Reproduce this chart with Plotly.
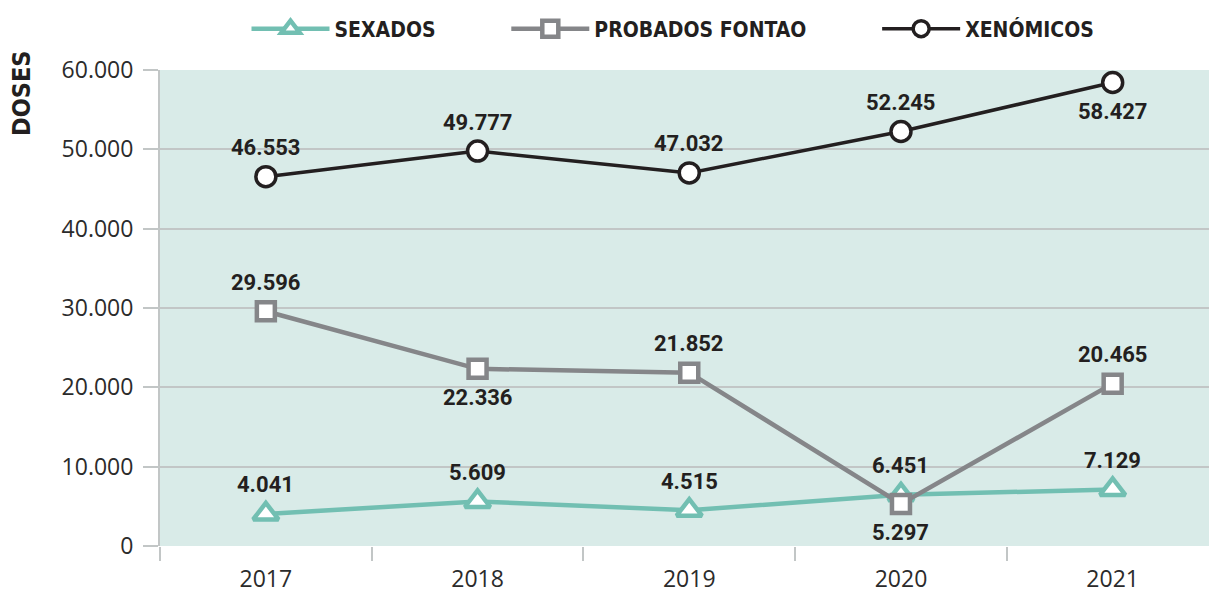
import plotly.graph_objects as go

years = ["2017", "2018", "2019", "2020", "2021"]
sexados = [4041, 5609, 4515, 6451, 7129]
probados = [29596, 22336, 21852, 5297, 20465]
xenomicos = [46553, 49777, 47032, 52245, 58427]

# +1 = label above the point, -1 = label below
sexados_side = [1, 1, 1, 1, 1]
probados_side = [1, -1, 1, -1, 1]
xenomicos_side = [1, 1, 1, 1, -1]

def lbl(v):
    return f"{v:,}".replace(",", ".")

TEAL = "#72bfb2"
GREY = "#858689"
BLACK = "#231f20"
GRID = "#c2c6c6"
TICK_TXT = "#2b2b2b"
LABEL_FONT = dict(family="Roboto, Arial", size=22, color=BLACK, weight="bold")
COND = "Liberation Sans Narrow, DejaVu Sans Condensed, Arial Narrow"
PAD = "\u00a0" * 10

W, H = 1209, 594
L, T, B = 160, 70, 48

fig = go.Figure()
series = [
    ("SEXADOS", sexados, sexados_side, TEAL, 4.5,
     dict(symbol="triangle-up", size=22, color="white", line=dict(color=TEAL, width=4.5))),
    ("PROBADOS FONTAO", probados, probados_side, GREY, 4.5,
     dict(symbol="square", size=18, color="white", line=dict(color=GREY, width=4.5))),
    ("XENÓMICOS", xenomicos, xenomicos_side, BLACK, 3.5,
     dict(symbol="circle", size=20, color="white", line=dict(color=BLACK, width=3.5))),
]
annotations = []
for idx, (name, vals, side, col, w, mk) in enumerate(series):
    fig.add_trace(go.Scatter(
        x=years, y=vals, name=name + (PAD if idx < 2 else ""), mode="lines+markers",
        line=dict(color=col, width=w), marker=mk, cliponaxis=False,
    ))
    for i, (yv, s) in enumerate(zip(vals, side)):
        annotations.append(dict(
            x=i, y=yv, xref="x", yref="y", text=lbl(yv), showarrow=False,
            yshift=29 * s, font=LABEL_FONT, xanchor="center", yanchor="middle",
        ))

annotations.append(dict(
    text="<b>DOSES</b>", textangle=-90, xref="paper", yref="paper",
    x=(22 - L) / (W - L), y=(H - B - 48) / (H - T - B), xanchor="center", yanchor="top",
    showarrow=False, font=dict(family=COND, size=25, color=BLACK),
))

fig.update_layout(
    width=W, height=H,
    margin=dict(l=L, r=0, t=T, b=B, pad=0, autoexpand=False),
    paper_bgcolor="white",
    plot_bgcolor="#d9ebe8",
    separators=",.",
    showlegend=True,
    legend=dict(
        orientation="h", x=673 / W, xanchor="center", xref="container",
        y=1 - 29 / H, yanchor="middle", yref="container",
        font=dict(family=COND, size=21, color=BLACK, weight="bold"),
        itemwidth=78, bgcolor="rgba(0,0,0,0)", tracegroupgap=0,
    ),
    xaxis=dict(
        type="category", range=[-0.5, 4.455], automargin=False,
        tickson="boundaries", ticks="outside", ticklen=14, tickcolor=GRID, tickwidth=2,
        showgrid=False, showline=False, zeroline=False, ticklabelstandoff=17,
        tickfont=dict(family="Open Sans, Arial", size=23, color=TICK_TXT),
    ),
    yaxis=dict(
        range=[0, 60000], tickvals=[0, 10000, 20000, 30000, 40000, 50000, 60000],
        tickformat=",d", automargin=False,
        ticks="outside", ticklen=15, tickcolor=GRID, tickwidth=2,
        showgrid=True, gridcolor=GRID, gridwidth=2,
        showline=True, linecolor=GRID, linewidth=2,
        zeroline=False, ticklabelstandoff=5,
        tickfont=dict(family="Open Sans, Arial", size=23, color=TICK_TXT),
    ),
    annotations=annotations,
)

fig.write_html(
    "out.html",
    config={"displayModeBar": False},
    post_script=(
        "document.body.style.margin='0';"
        "document.body.style.overflow='hidden';"
        "document.documentElement.style.overflow='hidden';"
    ),
)
